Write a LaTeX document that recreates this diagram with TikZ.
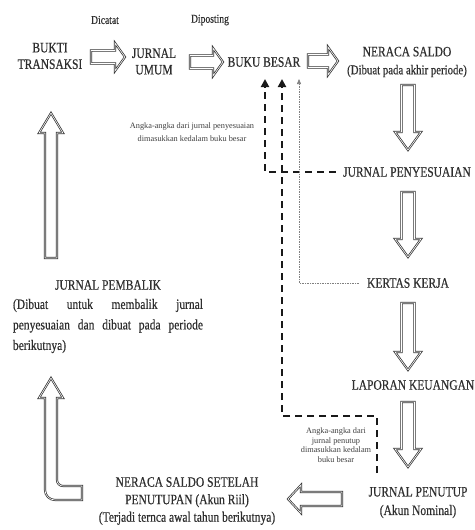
\documentclass[tikz,border=0pt]{standalone}
\usepackage{fontspec}
\setmainfont{Liberation Serif}[FakeStretch=0.8,FakeBold=0.4]
\newfontfamily\tinyf{Liberation Serif}
\usetikzlibrary{arrows.meta,calc}
% hollow block arrows: #1 tail, #2 tip, #3 body half width, #4 head half width, #5 head length
\newcommand\rarr[5]{\draw[harr] ($(#1)+(0,-#3)$) -- ($(#2)+(-#5,-#3)$) -- ($(#2)+(-#5,-#4)$) -- (#2) -- ($(#2)+(-#5,#4)$) -- ($(#2)+(-#5,#3)$) -- ($(#1)+(0,#3)$) -- cycle;}
\newcommand\larr[5]{\draw[harr] ($(#1)+(0,-#3)$) -- ($(#2)+(#5,-#3)$) -- ($(#2)+(#5,-#4)$) -- (#2) -- ($(#2)+(#5,#4)$) -- ($(#2)+(#5,#3)$) -- ($(#1)+(0,#3)$) -- cycle;}
\newcommand\darr[5]{\draw[harr] ($(#1)+(-#3,0)$) -- ($(#2)+(-#3,-#5)$) -- ($(#2)+(-#4,-#5)$) -- (#2) -- ($(#2)+(#4,-#5)$) -- ($(#2)+(#3,-#5)$) -- ($(#1)+(#3,0)$) -- cycle;}
\newcommand\uarr[5]{\draw[harr] ($(#1)+(-#3,0)$) -- ($(#2)+(-#3,#5)$) -- ($(#2)+(-#4,#5)$) -- (#2) -- ($(#2)+(#4,#5)$) -- ($(#2)+(#3,#5)$) -- ($(#1)+(#3,0)$) -- cycle;}
\tikzset{
  lbl/.style={inner sep=0pt, text=black!82, font=\fontsize{14.4}{16.5}\selectfont, align=center},
  smalllbl/.style={inner sep=0pt, text=black!82, font=\fontsize{12}{14}\selectfont},
  tinylbl/.style={inner sep=0pt, text=black!75, font=\tinyf\fontsize{8.3}{13}\selectfont, align=center},
  harr/.style={draw=black!80, double=white, double distance=0.6pt, line width=0.75pt, line join=miter},
  thickdash/.style={draw=black!90, line width=2.2pt, dash pattern=on 7pt off 5pt, -{Triangle[width=8pt,length=8pt]}},
  thindot/.style={draw=black!50, line width=0.6pt, dash pattern=on 1.5pt off 1pt, -{Triangle[width=4pt,length=5pt]}}
}
\begin{document}
\begin{tikzpicture}[x=1pt,y=-1pt]
\useasboundingbox[fill=white] (0,0) rectangle (474,530);

% labels
\node[smalllbl] (dicatat) at (105,20) {Dicatat};
\node[smalllbl] (diposting) at (210,20) {Diposting};
\node[lbl] (bukti) at (50,56) {BUKTI\\TRANSAKSI};
\node[lbl] (ju) at (154,61.5) {JURNAL\\UMUM};
\node[lbl] (bb) at (264,62) {BUKU BESAR};
\node[lbl] (ns) at (407,62) {NERACA SALDO\\[1.5pt]{\fontsize{13.5}{15}\selectfont (Dibuat pada akhir periode)}};
\node[lbl] (jpen) at (407,172) {JURNAL PENYESUAIAN};
\node[lbl] (kk) at (408,283) {KERTAS KERJA};
\node[lbl] (lk) at (413,385) {LAPORAN KEUANGAN};
\node[lbl] (jpt) at (418,502.5) {JURNAL PENUTUP\\[2pt](Akun Nominal)};
\node[lbl] (nsst) at (187,501) {NERACA SALDO SETELAH\\[1pt]PENUTUPAN (Akun Riil)\\[1pt](Terjadi ternca awal tahun berikutnya)};
\node[lbl] (jpb) at (108,285) {JURNAL PEMBALIK};
\node[lbl, text width=190pt, align=justify, font=\fontsize{14.4}{20.5}\selectfont] (jpbt) at (108,326)
  {\hyphenpenalty=10000 \exhyphenpenalty=10000 \tolerance=10000 (Dibuat untuk membalik jurnal\linebreak penyesuaian dan dibuat pada periode\linebreak berikutnya)};
\node[tinylbl] (t1) at (192,132.5) {Angka-angka dari jurnal penyesuaian\\dimasukkan kedalam buku besar};
\node[tinylbl, font=\tinyf\fontsize{8.3}{9.6}\selectfont] (t2) at (336,445) {Angka-angka dari\\jurnal penutup\\dimasukkan kedalam\\buku besar};

% block arrow end points
\coordinate (a1t) at (91,57);   \coordinate (a1h) at (125,57);
\coordinate (a2t) at (190,62);  \coordinate (a2h) at (223,62);
\coordinate (a3t) at (308,61);  \coordinate (a3h) at (338,61);
\coordinate (d1t) at (408,85);  \coordinate (d1h) at (408,150);
\coordinate (d2t) at (408,192); \coordinate (d2h) at (408,257);
\coordinate (d3t) at (408,303); \coordinate (d3h) at (408,370);
\coordinate (d4t) at (408,402); \coordinate (d4h) at (408,467);
\coordinate (l1t) at (342,499); \coordinate (l1h) at (288,499);
\coordinate (u1t) at (51,258);  \coordinate (u1h) at (51,113);
\coordinate (lt) at (51,378);

\rarr{a1t}{a1h}{6.5}{14}{10}
\rarr{a2t}{a2h}{6.5}{14}{10}
\rarr{a3t}{a3h}{6.5}{14}{10}
\darr{d1t}{d1h}{6.5}{13}{18}
\darr{d2t}{d2h}{6.5}{13}{18}
\darr{d3t}{d3h}{6.5}{13}{18}
\darr{d4t}{d4h}{6.5}{13}{18}
\larr{l1t}{l1h}{7}{14}{13}
\uarr{u1t}{u1h}{6}{12}{20}
% L-shaped arrow
\draw[harr] (lt) -- ++(12,20) -- ++(-6,0) -- (57,480) arc(180:270:6pt) -- (82,486) -- (82,500)
  -- (55,500) arc(270:180:10pt) -- (45,398) -- (39,398) -- cycle;

% dashed connectors into BUKU BESAR
\coordinate (bbA) at (265,79);
\coordinate (bbB) at (282,79);
\coordinate (bbC) at (299,79);
\coordinate (pt1) at (377,473);
\coordinate (c2) at (282,416);
\draw[thickdash] ($(jpen.west)+(-7,0)$) -| (bbA);
\draw[thickdash] (pt1) |- (c2) -- (bbB);
\draw[thindot] ($(kk.west)+(-8,0)$) -| (bbC);
\end{tikzpicture}
\end{document}
